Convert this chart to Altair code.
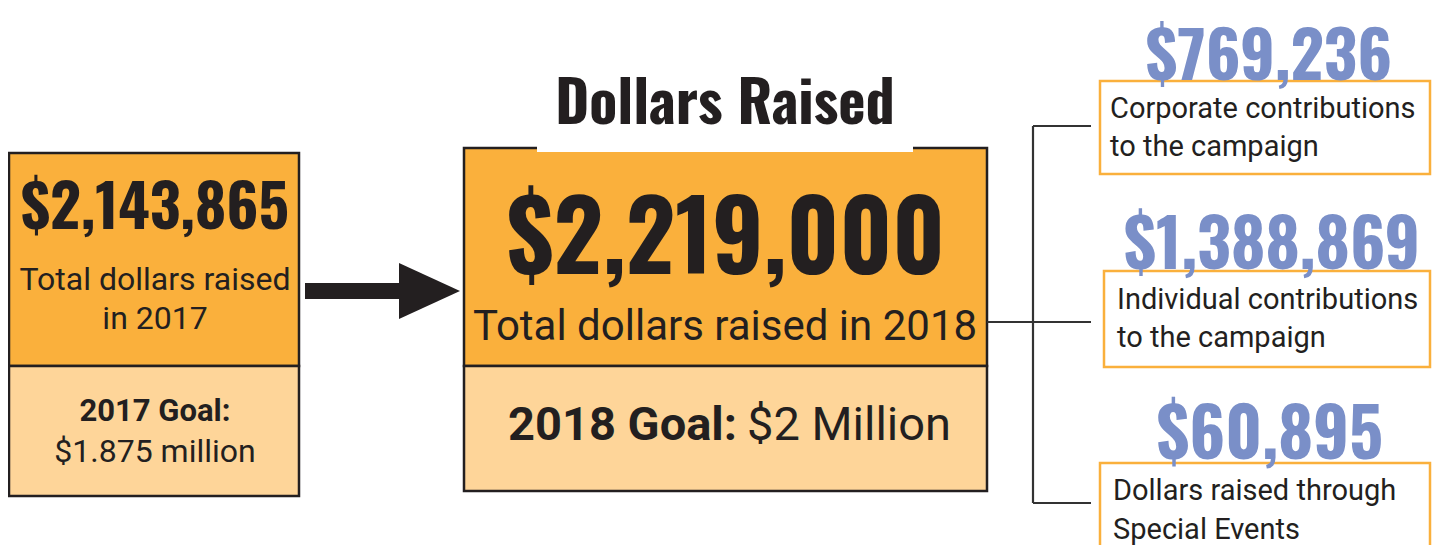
import altair as alt
import pandas as pd

# ---- content ----
title = "Dollars Raised"
total_2017 = "$2,143,865"
label_2017 = ["Total dollars raised", "in 2017"]
goal_2017_head = "2017 Goal:"
goal_2017_val = "$1.875 million"
total_2018 = "$2,219,000"
label_2018 = "Total dollars raised in 2018"
goal_2018_head = "2018 Goal:"
goal_2018_val = "$2 Million"
part_values = ["$769,236", "$1,388,869", "$60,895"]
part_labels = [
    ["Corporate contributions", "to the campaign"],
    ["Individual contributions", "to the campaign"],
    ["Dollars raised through", "Special Events"],
]

# ---- style ----
ORANGE = "#FAB03C"
LIGHT = "#FED599"
DARK = "#231F20"
BLUE = "#7A8FC8"
COND = "Oswald, Roboto Condensed, DejaVu Sans Condensed, sans-serif"
BODY = "Roboto"

W, H = 1424, 537
xs = alt.Scale(domain=[8, 1432], range=[0, W], nice=False, zero=False)
ys = alt.Scale(domain=[8, 545], reverse=True, nice=False, zero=False)

# ---- layout (pixel frame of the infographic) ----
rects = pd.DataFrame([
    dict(x=9, x2=299, y=153, y2=366, fill=ORANGE, stroke=DARK, sw=2.5),
    dict(x=9, x2=299, y=366, y2=496, fill=LIGHT, stroke=DARK, sw=2.5),
    dict(x=464, x2=987, y=148, y2=366, fill=ORANGE, stroke=DARK, sw=2.5),
    dict(x=464, x2=987, y=366, y2=491, fill=LIGHT, stroke=DARK, sw=2.5),
    dict(x=537, x2=913, y=138, y2=152, fill="#FFFFFF", stroke="#FFFFFF", sw=0),
    dict(x=305, x2=400, y=283, y2=299, fill=DARK, stroke=DARK, sw=0),
    dict(x=1100, x2=1430, y=81, y2=174, fill="#FFFFFF", stroke=ORANGE, sw=2.5),
    dict(x=1104, x2=1430, y=271, y2=367, fill="#FFFFFF", stroke=ORANGE, sw=2.5),
    dict(x=1100, x2=1430, y=463, y2=570, fill="#FFFFFF", stroke=ORANGE, sw=2.5),
])

rules = pd.DataFrame([
    dict(x=987, x2=1033, y=322, y2=322),
    dict(x=1033, x2=1033, y=126, y2=503),
    dict(x=1033, x2=1091, y=126, y2=126),
    dict(x=1033, x2=1091, y=322, y2=322),
    dict(x=1033, x2=1091, y=503, y2=503),
])

arrow_head = pd.DataFrame([
    dict(x=399, y=263, y2=319),
    dict(x=460, y=291, y2=291),
])

rect_layer = alt.Chart(rects).mark_rect(clip=True).encode(
    x=alt.X("x:Q", scale=xs, axis=None),
    x2="x2:Q",
    y=alt.Y("y:Q", scale=ys, axis=None),
    y2="y2:Q",
    fill=alt.Fill("fill:N", scale=None),
    stroke=alt.Stroke("stroke:N", scale=None),
    strokeWidth=alt.StrokeWidth("sw:Q", scale=None),
)

rule_layer = alt.Chart(rules).mark_rule(color="#333333", strokeWidth=2.2).encode(
    x=alt.X("x:Q", scale=xs, axis=None),
    x2="x2:Q",
    y=alt.Y("y:Q", scale=ys, axis=None),
    y2="y2:Q",
)

head_layer = alt.Chart(arrow_head).mark_area(color=DARK, orient="vertical").encode(
    x=alt.X("x:Q", scale=xs, axis=None),
    y=alt.Y("y:Q", scale=ys, axis=None),
    y2="y2:Q",
)

texts = []
def add(text, x, y, size, font, weight, color, align):
    texts.append(dict(text=text, x=x, y=y, size=size, font=font, weight=weight,
                      color=color, align=align))

add(title, 725, 124, 58, COND, "bold", DARK, "center")
add(total_2017, 155, 229, 60, COND, "bold", DARK, "center")
add(label_2017[0], 155, 290, 32, BODY, "normal", DARK, "center")
add(label_2017[1], 155, 329, 32, BODY, "normal", DARK, "center")
add(goal_2017_head, 155, 421, 31, BODY, "bold", DARK, "center")
add(goal_2017_val, 155, 462, 32, BODY, "normal", DARK, "center")
add(total_2018, 726, 274, 96, COND, "bold", DARK, "center")
add(label_2018, 725, 340, 42, BODY, "normal", DARK, "center")
add(goal_2018_head, 737, 440, 47, BODY, "bold", DARK, "right")
add(goal_2018_val, 747, 440, 47, BODY, "normal", DARK, "left")

value_pos = [(1269, 80, 65), (1272, 269, 66), (1270, 459, 67)]
label_pos = [(1110, 118, 156), (1117, 309, 347), (1113, 500, 539)]
for v, (vx, vy, vs) in zip(part_values, value_pos):
    add(v, vx, vy, vs, COND, "bold", BLUE, "center")
for lines, (lx, ly1, ly2) in zip(part_labels, label_pos):
    add(lines[0], lx, ly1, 29, BODY, "normal", DARK, "left")
    add(lines[1], lx, ly2, 29, BODY, "normal", DARK, "left")

tdf = pd.DataFrame(texts)
text_layers = []
for (font, weight, align), grp in tdf.groupby(["font", "weight", "align"]):
    text_layers.append(
        alt.Chart(grp).mark_text(font=font, fontWeight=weight, align=align,
                                 baseline="alphabetic").encode(
            x=alt.X("x:Q", scale=xs, axis=None),
            y=alt.Y("y:Q", scale=ys, axis=None),
            text="text:N",
            size=alt.Size("size:Q", scale=None),
            color=alt.Color("color:N", scale=None),
        )
    )

chart = alt.layer(rect_layer, head_layer, rule_layer, *text_layers).properties(
    width=W, height=H, padding=0, background="#FFFFFF",
    autosize=alt.AutoSizeParams(type="none"),
).configure_view(strokeWidth=0)

chart.save("out.html", embed_options={"renderer": "svg", "actions": False})
